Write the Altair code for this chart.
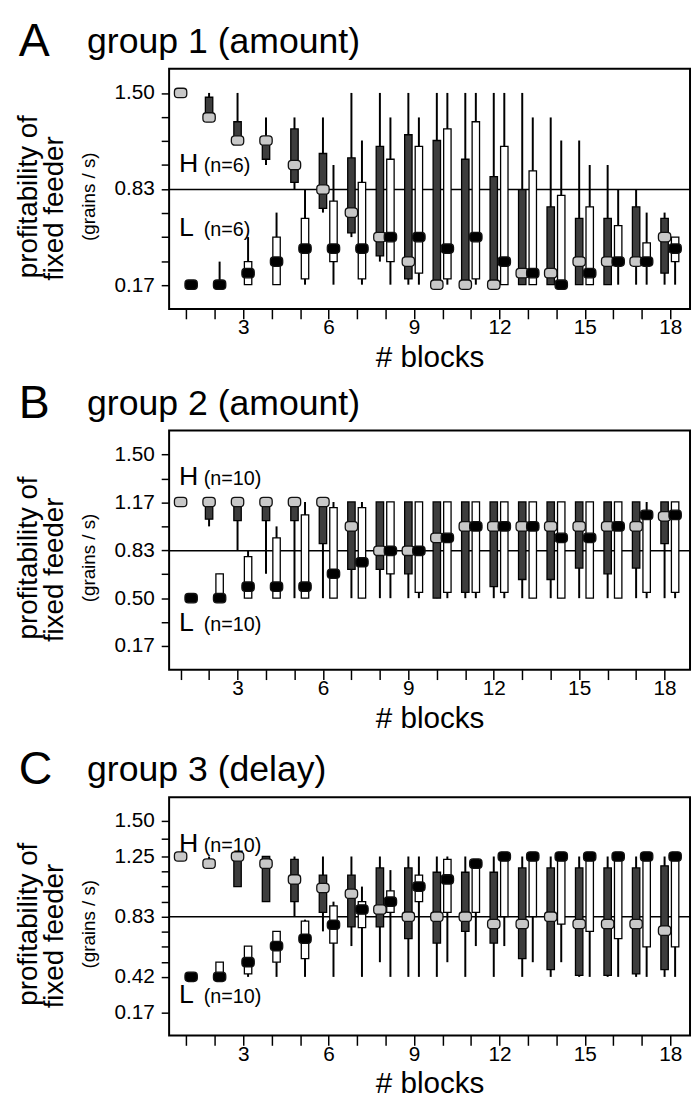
import altair as alt
import pandas as pd

FONT = "Liberation Sans"

blocks = list(range(1, 19))

# (min, q1, median, q3, max) per block, profitability of fixed feeder (grains / s)
A_high = [(1.50,1.50,1.50,1.50,1.50),(1.33,1.33,1.33,1.47,1.50),(1.17,1.17,1.17,1.30,1.50),
          (1.00,1.04,1.17,1.17,1.33),(0.83,0.88,1.00,1.25,1.33),(0.67,0.70,0.83,1.08,1.33),
          (0.50,0.53,0.67,1.05,1.50),(0.33,0.37,0.50,1.13,1.50),(0.17,0.21,0.33,1.21,1.50),
          (0.17,0.17,0.17,1.17,1.50),(0.17,0.17,0.17,1.04,1.50),(0.17,0.17,0.17,0.92,1.50),
          (0.17,0.17,0.25,0.83,1.50),(0.17,0.17,0.25,0.71,1.33),(0.17,0.17,0.33,0.63,1.17),
          (0.17,0.17,0.33,0.63,1.00),(0.17,0.33,0.33,0.71,0.83),(0.17,0.25,0.50,0.63,0.67)]
A_low = [(0.17,0.17,0.17,0.17,0.17),(0.17,0.17,0.17,0.17,0.33),(0.17,0.17,0.25,0.33,0.50),
         (0.17,0.17,0.33,0.50,0.67),(0.17,0.21,0.42,0.63,0.83),(0.17,0.33,0.42,0.75,1.00),
         (0.17,0.21,0.42,0.88,1.17),(0.17,0.33,0.50,1.04,1.33),(0.17,0.25,0.50,1.13,1.33),
         (0.17,0.21,0.42,1.25,1.50),(0.17,0.21,0.50,1.30,1.50),(0.17,0.17,0.33,1.13,1.50),
         (0.17,0.17,0.25,0.96,1.33),(0.17,0.17,0.17,0.79,1.17),(0.17,0.17,0.25,0.71,1.00),
         (0.17,0.33,0.33,0.58,0.83),(0.17,0.33,0.33,0.46,0.67),(0.17,0.33,0.42,0.50,0.50)]
B_high = [(1.17,1.17,1.17,1.17,1.17),(1.00,1.05,1.17,1.17,1.17),(0.83,1.04,1.17,1.17,1.17),
          (0.67,1.04,1.17,1.17,1.17),(0.50,1.04,1.17,1.17,1.17),(0.50,0.88,1.17,1.17,1.17),
          (0.50,0.70,1.00,1.17,1.17),(0.50,0.70,0.83,1.17,1.17),(0.50,0.67,0.83,1.17,1.17),
          (0.50,0.50,0.92,1.17,1.17),(0.50,0.54,1.00,1.17,1.17),(0.50,0.58,1.00,1.17,1.17),
          (0.50,0.63,1.00,1.17,1.17),(0.50,0.63,1.00,1.17,1.17),(0.50,0.71,1.00,1.17,1.17),
          (0.50,0.67,1.00,1.17,1.17),(0.50,0.71,1.00,1.17,1.17),(0.50,0.88,1.07,1.17,1.17)]
B_low = [(0.50,0.50,0.50,0.50,0.50),(0.50,0.50,0.50,0.67,0.67),(0.50,0.50,0.58,0.79,0.83),
         (0.50,0.50,0.58,0.92,1.00),(0.50,0.50,0.58,1.08,1.17),(0.50,0.50,0.67,1.13,1.17),
         (0.50,0.50,0.75,1.13,1.17),(0.50,0.67,0.83,1.17,1.17),(0.50,0.54,0.83,1.17,1.17),
         (0.50,0.54,0.92,1.17,1.17),(0.50,0.54,1.00,1.17,1.17),(0.50,0.54,1.00,1.17,1.17),
         (0.50,0.50,1.00,1.17,1.17),(0.50,0.50,0.92,1.17,1.17),(0.50,0.50,0.92,1.17,1.17),
         (0.50,0.50,1.00,1.17,1.17),(0.50,0.54,1.08,1.08,1.17),(0.50,0.54,1.08,1.17,1.17)]
C_high = [(1.25,1.25,1.25,1.25,1.25),(1.20,1.20,1.20,1.20,1.25),(1.04,1.04,1.25,1.25,1.25),
          (0.935,0.935,1.20,1.25,1.25),(0.83,0.935,1.09,1.23,1.25),(0.73,0.86,1.03,1.12,1.25),
          (0.63,0.76,0.99,1.12,1.25),(0.52,0.76,0.88,1.17,1.25),(0.42,0.68,0.83,1.17,1.25),
          (0.42,0.65,0.83,1.14,1.25),(0.42,0.73,0.83,1.14,1.25),(0.42,0.65,0.78,1.14,1.25),
          (0.42,0.545,0.78,1.17,1.25),(0.42,0.47,0.83,1.17,1.25),(0.42,0.43,0.78,1.17,1.25),
          (0.42,0.43,0.78,1.17,1.25),(0.42,0.44,0.78,1.17,1.25),(0.42,0.47,0.735,1.185,1.25)]
C_low = [(0.42,0.42,0.42,0.42,0.42),(0.42,0.42,0.42,0.52,0.52),(0.42,0.44,0.52,0.63,0.63),
         (0.42,0.52,0.63,0.73,0.73),(0.42,0.545,0.68,0.80,0.81),(0.42,0.65,0.775,0.905,0.935),
         (0.42,0.755,0.88,0.935,1.04),(0.42,0.86,0.935,1.01,1.155),(0.42,0.935,1.04,1.12,1.25),
         (0.52,0.86,1.09,1.23,1.25),(0.63,0.86,1.20,1.20,1.22),(0.63,0.83,1.25,1.25,1.25),
         (0.52,0.83,1.25,1.25,1.25),(0.52,0.78,1.25,1.25,1.25),(0.42,0.73,1.25,1.25,1.25),
         (0.42,0.68,1.25,1.25,1.25),(0.42,0.625,1.25,1.25,1.25),(0.42,0.625,1.25,1.25,1.25)]

letters = ["A", "B", "C"]
titles = ["group 1 (amount)", "group 2 (amount)", "group 3 (delay)"]
n_labels = ["(n=6)", "(n=10)", "(n=10)"]
reference_level = 0.83

ticks_AB = [k / 6 for k in range(1, 10)]
ticks_C = [0.17, 0.42, 0.5225, 0.625, 0.7275, 0.83, 0.935, 1.04, 1.145, 1.25, 1.375, 1.50]
labels_C = ["0.17", "0.42", "0.83", "1.25", "1.50"]

W = 527


def frame(high, low, h_off, l_off):
    rows = []
    for grp, data, off in (("H", high, h_off), ("L", low, l_off)):
        for b, (lo, q1, med, q3, hi) in zip(blocks, data):
            rows.append(dict(block=b, group=grp, pos=b + off, lo=lo, q1=q1, med=med, q3=q3, hi=hi))
    return pd.DataFrame(rows)


def txt(text, x, y, size, align="left", angle=0, baseline="alphabetic"):
    return alt.Chart(pd.DataFrame({"t": [text]})).mark_text(
        align=align, baseline=baseline, fontSize=size, font=FONT, angle=angle, color="black"
    ).encode(x=alt.value(x), y=alt.value(y), text="t:N")


def panel(i, high, low, h_off, l_off, xdomain, yscale, yticks, ylabel_expr, height, h_y, l_y):
    df = frame(high, low, h_off, l_off)
    base = alt.Chart(df)
    x = alt.X("pos:Q", scale=alt.Scale(domain=xdomain, nice=False, zero=False),
              axis=alt.Axis(values=blocks, labelExpr="datum.value % 3 == 0 ? datum.label : ''",
                            title="# blocks"))
    yax = alt.Axis(values=yticks, labelExpr=ylabel_expr, title=None)
    whisk = base.mark_rule(color="black", strokeWidth=2).encode(
        x=x, y=alt.Y("lo:Q", scale=yscale, axis=yax), y2="hi:Q")
    box = base.mark_bar(size=7.5, stroke="black", strokeWidth=1.3).encode(
        x=x, y=alt.Y("q1:Q", scale=yscale, axis=yax), y2="q3:Q",
        fill=alt.Fill("group:N", scale=alt.Scale(domain=["H", "L"], range=["#3d3d3d", "#ffffff"]), legend=None))
    med = base.mark_bar(size=12.5, cornerRadius=3.5, stroke="#111111", strokeWidth=1.3,
                        yOffset=-4.75, y2Offset=4.75).encode(
        x=x, y=alt.Y("med:Q", scale=yscale, axis=yax), y2="med:Q",
        fill=alt.Fill("group:N", scale=alt.Scale(domain=["H", "L"], range=["#c8c8c8", "#000000"]), legend=None))
    ref = alt.Chart(pd.DataFrame({"v": [reference_level]})).mark_rule(color="black", strokeWidth=1.5).encode(
        y=alt.Y("v:Q", scale=yscale, axis=yax))
    layers = [ref, whisk, box, med,
              txt(letters[i], -152, -13, 47),
              txt(titles[i], -83, -16, 36),
              txt("profitability of", -142, height / 2 + 8, 28, align="center", angle=270, baseline="middle"),
              txt("fixed feeder", -115, height / 2 + 20, 28, align="center", angle=270, baseline="middle"),
              txt("(grains / s)", -81, height / 2 + 8, 19, align="center", angle=270, baseline="middle"),
              txt("H", 10, h_y, 27), txt(n_labels[i], 35, h_y, 20),
              txt("L", 10, l_y, 27), txt(n_labels[i], 35, l_y, 20)]
    return alt.layer(*layers).resolve_scale(fill="independent").properties(width=W, height=height)


lin = alt.Scale(domain=[0.002, 1.668], nice=False, zero=False)
pw = alt.Scale(domain=[0.17, 0.42, 0.83, 1.25, 1.50], range=[218.3, 181.8, 120.9, 60.0, 23.5],
               nice=False, zero=False)

pA = panel(0, A_high, A_low, -0.2, 0.17, [0.57, 18.52], lin, ticks_AB,
           "round(datum.value*6) % 4 == 1 ? format(datum.value, '.2f') : ''", 243, 105, 169)
pB = panel(1, B_high, B_low, 0.0, 0.37, [0.77, 18.72], lin, ticks_AB,
           "round(datum.value*6) % 2 == 1 ? format(datum.value, '.2f') : ''", 242, 55, 203)
pC = panel(2, C_high, C_low, -0.2, 0.17, [0.57, 18.52], pw, ticks_C,
           "indexof(" + str(labels_C) + ", format(datum.value, '.2f')) >= 0 ? format(datum.value, '.2f') : ''",
           241, 55, 208)

chart = alt.vconcat(alt.vconcat(pA, pB, spacing=6), pC, spacing=12).properties(
    padding={"left": 6, "top": 3, "right": 0, "bottom": 0}
).configure_view(stroke="black", strokeWidth=2).configure_axis(
    domain=False, grid=False, tickColor="black", tickWidth=1.5, labelColor="black",
    labelFont=FONT, titleFont=FONT, labelFontSize=21, titleFontSize=30, titleFontWeight="normal",
    titleColor="black"
).configure_axisX(tickSize=10, labelPadding=-2, titlePadding=5).configure_axisY(tickSize=8, labelPadding=7)

chart.save("out.html", embed_options={"renderer": "svg", "actions": False})
